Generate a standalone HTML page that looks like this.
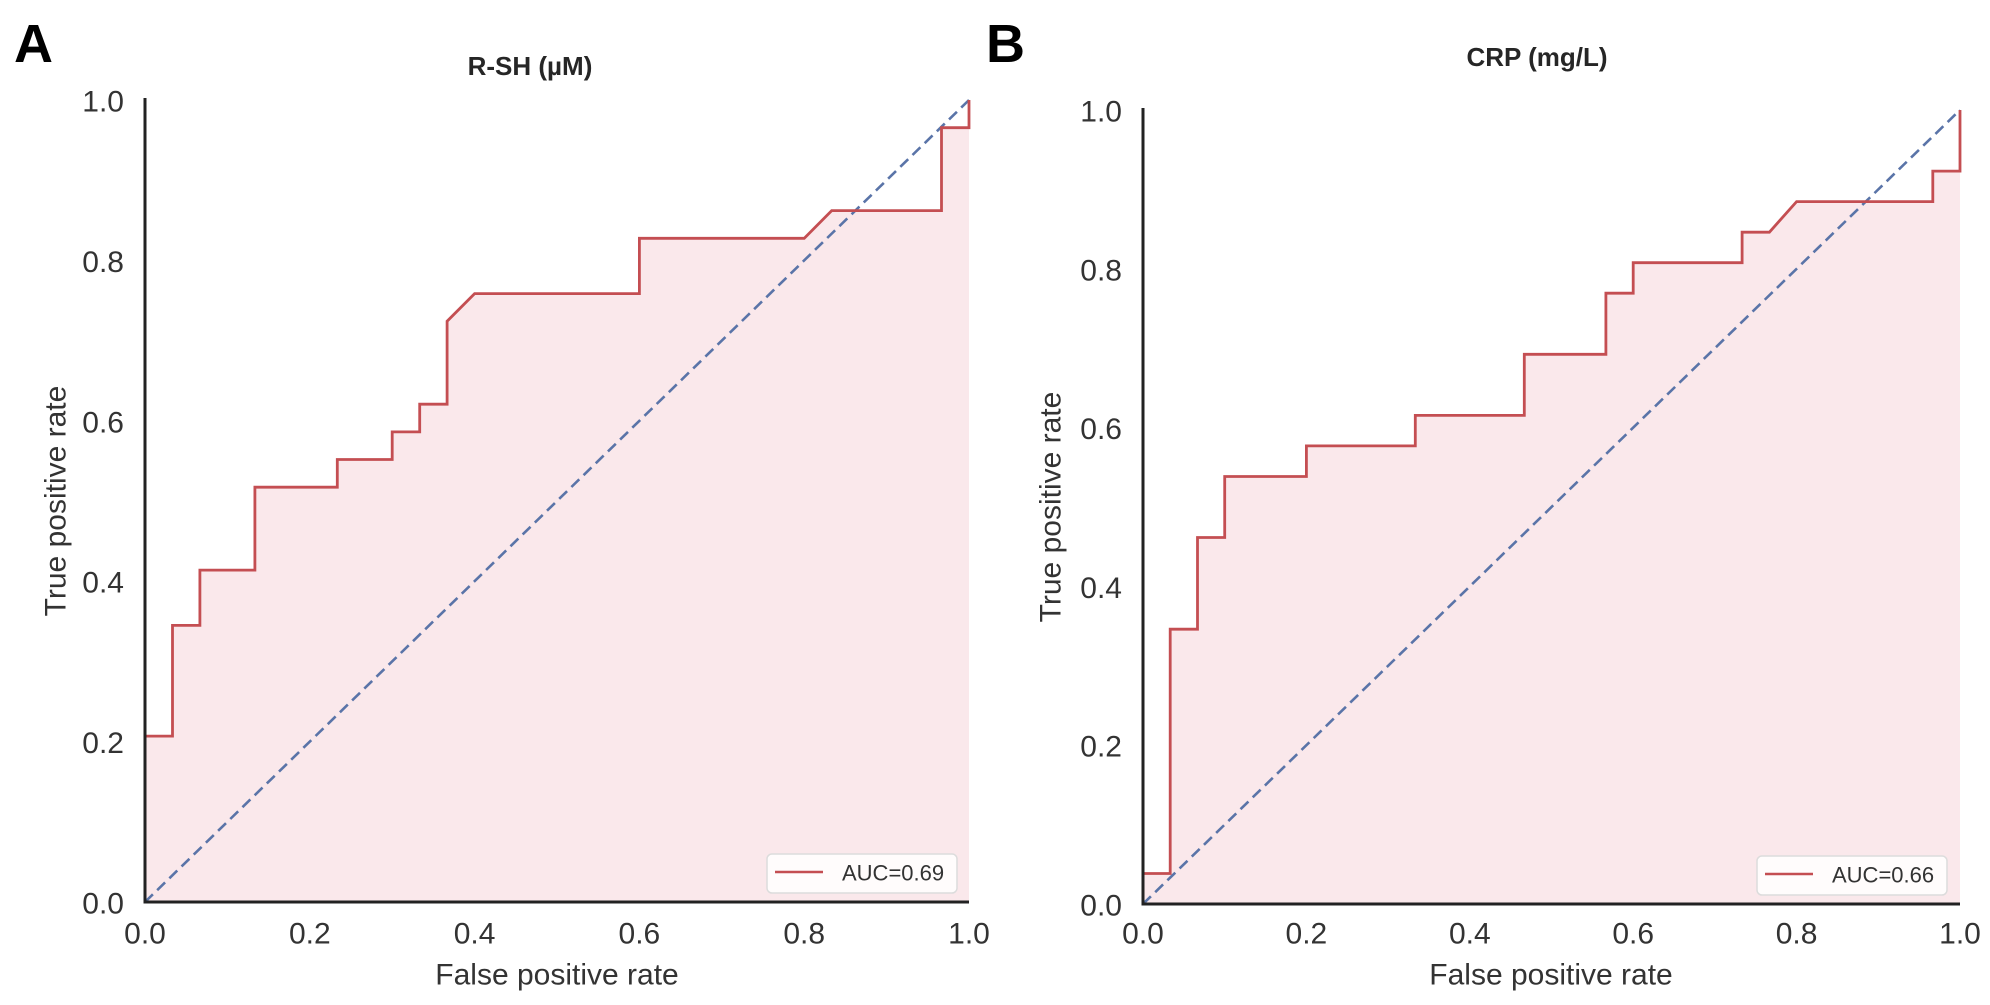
<!DOCTYPE html>
<html>
<head>
<meta charset="utf-8">
<style>
  html, body { margin:0; padding:0; background:#fff; }
  body { width:1990px; height:1005px; overflow:hidden; }
  svg { display:block; }
  text { font-family: "Liberation Sans", "DejaVu Sans", sans-serif; }
</style>
</head>
<body>
<svg width="1990" height="1005" viewBox="0 0 1990 1005" xmlns="http://www.w3.org/2000/svg">
  <rect x="0" y="0" width="1990" height="1005" fill="#ffffff"/>

  <!-- ================= PANEL A ================= -->
  <text x="14" y="62" font-size="54" font-weight="bold" fill="#000">A</text>
  <text x="530" y="66" font-size="26" font-weight="bold" fill="#262626" text-anchor="middle" dominant-baseline="central">R-SH (µM)</text>

  <polygon fill="#fae8eb" points="145,902 145,736.1 172.5,736.1 172.5,625.4 199.9,625.4 199.9,570.1 254.9,570.1 254.9,487.2 337.3,487.2 337.3,459.5 392.2,459.5 392.2,431.9 419.7,431.9 419.7,404.2 447.1,404.2 447.1,321.2 474.6,293.6 639.4,293.6 639.4,238.3 804.2,238.3 831.7,210.6 941.5,210.6 941.5,127.7 969,127.7 969,100 969,902"/>

  <line x1="145" y1="902" x2="969" y2="100" stroke="#5a74a8" stroke-width="2.6" stroke-dasharray="11,6"/>

  <polyline fill="none" stroke="#c44e52" stroke-width="2.8" stroke-linejoin="miter" points="145,902 145,736.1 172.5,736.1 172.5,625.4 199.9,625.4 199.9,570.1 254.9,570.1 254.9,487.2 337.3,487.2 337.3,459.5 392.2,459.5 392.2,431.9 419.7,431.9 419.7,404.2 447.1,404.2 447.1,321.2 474.6,293.6 639.4,293.6 639.4,238.3 804.2,238.3 831.7,210.6 941.5,210.6 941.5,127.7 969,127.7 969,100"/>

  <line x1="145" y1="98" x2="145" y2="903.5" stroke="#222" stroke-width="3"/>
  <line x1="143.5" y1="902" x2="969" y2="902" stroke="#222" stroke-width="3"/>

  <g font-size="30" fill="#333" text-anchor="end" dominant-baseline="central">
    <text x="124" y="904">0.0</text>
    <text x="124" y="743.6">0.2</text>
    <text x="124" y="583.2">0.4</text>
    <text x="124" y="422.8">0.6</text>
    <text x="124" y="262.4">0.8</text>
    <text x="124" y="102">1.0</text>
  </g>
  <g font-size="30" fill="#333" text-anchor="middle" dominant-baseline="central">
    <text x="145" y="934">0.0</text>
    <text x="309.8" y="934">0.2</text>
    <text x="474.6" y="934">0.4</text>
    <text x="639.4" y="934">0.6</text>
    <text x="804.2" y="934">0.8</text>
    <text x="969" y="934">1.0</text>
  </g>
  <text x="557" y="975" font-size="30" fill="#333" text-anchor="middle" dominant-baseline="central">False positive rate</text>
  <text transform="translate(56,501) rotate(-90)" font-size="30" fill="#333" text-anchor="middle" dominant-baseline="central">True positive rate</text>

  <rect x="767" y="854" width="190" height="39" rx="5" ry="5" fill="#ffffff" fill-opacity="0.85" stroke="#dcdcdc" stroke-width="1.5"/>
  <line x1="775" y1="872" x2="823" y2="872" stroke="#c44e52" stroke-width="2.6"/>
  <text x="842" y="873" font-size="22" fill="#333" dominant-baseline="central">AUC=0.69</text>

  <!-- ================= PANEL B ================= -->
  <text x="986" y="62" font-size="54" font-weight="bold" fill="#000">B</text>
  <text x="1537" y="57" font-size="26" font-weight="bold" fill="#262626" text-anchor="middle" dominant-baseline="central">CRP (mg/L)</text>

  <polygon fill="#fae8eb" points="1143,904 1143,873.5 1170.2,873.5 1170.2,629.2 1197.5,629.2 1197.5,537.5 1224.7,537.5 1224.7,476.5 1306.4,476.5 1306.4,445.9 1415.3,445.9 1415.3,415.4 1524.3,415.4 1524.3,354.3 1605.9,354.3 1605.9,293.2 1633.2,293.2 1633.2,262.7 1742.1,262.7 1742.1,232.2 1769.4,232.2 1796.6,201.6 1932.8,201.6 1932.8,171.1 1960,171.1 1960,110 1960,904"/>

  <line x1="1143" y1="904" x2="1960" y2="110" stroke="#5a74a8" stroke-width="2.6" stroke-dasharray="11,6"/>

  <polyline fill="none" stroke="#c44e52" stroke-width="2.8" points="1143,904 1143,873.5 1170.2,873.5 1170.2,629.2 1197.5,629.2 1197.5,537.5 1224.7,537.5 1224.7,476.5 1306.4,476.5 1306.4,445.9 1415.3,445.9 1415.3,415.4 1524.3,415.4 1524.3,354.3 1605.9,354.3 1605.9,293.2 1633.2,293.2 1633.2,262.7 1742.1,262.7 1742.1,232.2 1769.4,232.2 1796.6,201.6 1932.8,201.6 1932.8,171.1 1960,171.1 1960,110"/>

  <line x1="1143" y1="108" x2="1143" y2="905.5" stroke="#222" stroke-width="3"/>
  <line x1="1141.5" y1="904" x2="1960" y2="904" stroke="#222" stroke-width="3"/>

  <g font-size="30" fill="#333" text-anchor="end" dominant-baseline="central">
    <text x="1122" y="906">0.0</text>
    <text x="1122" y="747.2">0.2</text>
    <text x="1122" y="588.4">0.4</text>
    <text x="1122" y="429.6">0.6</text>
    <text x="1122" y="270.8">0.8</text>
    <text x="1122" y="112">1.0</text>
  </g>
  <g font-size="30" fill="#333" text-anchor="middle" dominant-baseline="central">
    <text x="1143" y="934">0.0</text>
    <text x="1306.4" y="934">0.2</text>
    <text x="1469.8" y="934">0.4</text>
    <text x="1633.2" y="934">0.6</text>
    <text x="1796.6" y="934">0.8</text>
    <text x="1960" y="934">1.0</text>
  </g>
  <text x="1551" y="975" font-size="30" fill="#333" text-anchor="middle" dominant-baseline="central">False positive rate</text>
  <text transform="translate(1051,507) rotate(-90)" font-size="30" fill="#333" text-anchor="middle" dominant-baseline="central">True positive rate</text>

  <rect x="1757" y="856" width="190" height="39" rx="5" ry="5" fill="#ffffff" fill-opacity="0.85" stroke="#dcdcdc" stroke-width="1.5"/>
  <line x1="1765" y1="874" x2="1813" y2="874" stroke="#c44e52" stroke-width="2.6"/>
  <text x="1832" y="875" font-size="22" fill="#333" dominant-baseline="central">AUC=0.66</text>
</svg>
</body>
</html>
